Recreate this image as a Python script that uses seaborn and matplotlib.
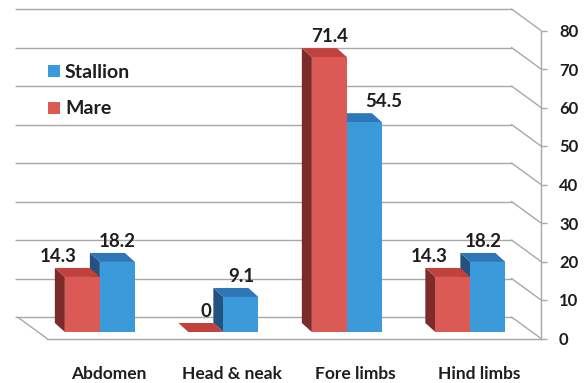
import matplotlib
matplotlib.use("Agg")
import matplotlib.pyplot as plt
from matplotlib.patches import Polygon, Patch
import seaborn as sns
import pandas as pd

# ---- data -------------------------------------------------------------
categories = ["Abdomen", "Head & neak", "Fore limbs", "Hind limbs"]
mare = [14.3, 0, 71.4, 14.3]
stallion = [18.2, 9.1, 54.5, 18.2]
value_ticks = [0, 10, 20, 30, 40, 50, 60, 70, 80]
hue_order = ["Mare", "Stallion"]

df = pd.DataFrame({
    "part": categories * 2,
    "sex": ["Mare"] * len(categories) + ["Stallion"] * len(categories),
    "pct": mare + stallion,
})

# ---- style ------------------------------------------------------------
sns.set_style("white")
plt.rcParams["font.family"] = ["Lato", "DejaVu Sans"]
plt.rcParams["font.weight"] = "bold"

FRONT = {"Mare": "#DC5A56", "Stallion": "#3B9BDA"}
SIDE = {"Mare": "#7B2B29", "Stallion": "#24517F"}
TOP = {"Mare": "#C0413D", "Stallion": "#2D76BA"}
GRID = "#A8A8A8"
INK = "#1E1E1E"

W, H = 587, 383
PX_X, PX_Y = 123.5, 3.85      # pixels per category / per value unit
X0, Y0 = 99.85, 332.0         # pixel position of category 0, value 0


def dx(px):
    return px / PX_X


def dy(px):
    return px / PX_Y


# pseudo-3D offsets (data units)
DX, DY = dx(-10), dy(9)        # bar depth
FX, FY = dx(8.9), -dy(6.5)     # front edge of the floor
BX, BY = dx(-20.6), dy(15)     # back wall

fig = plt.figure(figsize=(W / 100, H / 100), dpi=100)
ax = fig.add_axes([0, 0, 1, 1])

sns.barplot(data=df, x="part", y="pct", hue="sex", hue_order=hue_order,
            palette=FRONT, width=0.567, saturation=1, ax=ax, legend=False,
            edgecolor="none", linewidth=0)

lo, hi = (Y0 - H) / PX_Y, Y0 / PX_Y
ax.set_xlim((0 - X0) / PX_X, (W - X0) / PX_X)
ax.set_ylim(lo, hi)

# back wall gridlines and the right-hand side wall
for v in value_ticks:
    ax.plot([-0.5 + BX - dx(2.5), 3.5 + BX], [v + BY, v + BY],
            color=GRID, lw=1.0, zorder=1, solid_capstyle="butt")
    ax.plot([3.5 + BX, 3.5 + FX], [v + BY, v + FY],
            color=GRID, lw=1.0, zorder=1)
# left edge of the floor
ax.plot([-0.5 + BX, -0.5 + FX], [BY, FY], color=GRID, lw=1.0, zorder=1)

# side and top faces of each bar, plus value labels
label_shift = {"Mare": [-24, 0, 0, -24], "Stallion": [0, 0, 19, -5]}
for level, cont, z in zip(hue_order, ax.containers, (3, 2)):
    for k, bar in enumerate(cont):
        x, w, h = bar.get_x(), bar.get_width(), bar.get_height()
        bar.set_zorder(z + 0.2)
        ax.add_patch(Polygon([(x, 0), (x, h), (x + DX, h + DY), (x + DX, DY)],
                             closed=True, fc=SIDE[level], ec="none", zorder=z + 0.1))
        ax.add_patch(Polygon([(x, h), (x + w, h), (x + w + DX, h + DY), (x + DX, h + DY)],
                             closed=True, fc=TOP[level], ec="none", zorder=z + 0.1))
        ax.text(x + w / 2 + dx(label_shift[level][k]), h + DY + dy(6), f"{h:g}",
                ha="center", va="baseline", fontsize=13.5, fontweight="bold",
                color=INK, zorder=5)

# category axis along the front edge of the floor
for s in ("top", "left", "right"):
    ax.spines[s].set_visible(False)
ax.spines["bottom"].set_position(("data", FY))
ax.spines["bottom"].set_bounds(-0.5 + FX, 3.5 + FX)
ax.spines["bottom"].set_color(GRID)
ax.spines["bottom"].set_linewidth(1.0)
ax.set_xticks([i + FX for i in range(len(categories))], labels=categories)
ax.set_xticks([i - 0.5 + FX for i in range(len(categories) + 1)], minor=True)
ax.tick_params(axis="x", which="major", length=0, pad=19.5, labelsize=12.5,
               labelcolor=INK)
ax.tick_params(axis="x", which="minor", length=5, width=1.0, color=GRID,
               direction="out")
ax.set_yticks([])
ax.set_xlabel("")
ax.set_ylabel("")

# value axis on the right, at the front corner
tw = ax.twinx()
tw.set_position([0, 0, 1, 1])
tw.set_ylim(lo - FY, hi - FY)
for s in ("top", "left", "bottom"):
    tw.spines[s].set_visible(False)
tw.spines["right"].set_position(("data", 3.5 + FX))
tw.spines["right"].set_bounds(0, 80)
tw.spines["right"].set_color(GRID)
tw.spines["right"].set_linewidth(1.0)
tw.set_yticks(value_ticks)
tw.tick_params(axis="y", length=4, width=1.0, color=GRID, direction="out",
               pad=9, labelsize=12, labelcolor=INK)

# legend
handles = [Patch(fc=FRONT["Stallion"], ec="none"), Patch(fc=FRONT["Mare"], ec="none")]
leg = ax.legend(handles, ["Stallion", "Mare"], loc="upper left",
                bbox_to_anchor=(48 / W, 1 - 64 / H), bbox_transform=fig.transFigure,
                frameon=False, borderpad=0, borderaxespad=0,
                handlelength=0.62, handleheight=0.57, handletextpad=0.25,
                labelspacing=1.0, prop={"family": ["Lato", "DejaVu Sans"],
                                        "weight": "bold", "size": 14})
for t in leg.get_texts():
    t.set_color(INK)

fig.savefig("out.png", dpi=100)
